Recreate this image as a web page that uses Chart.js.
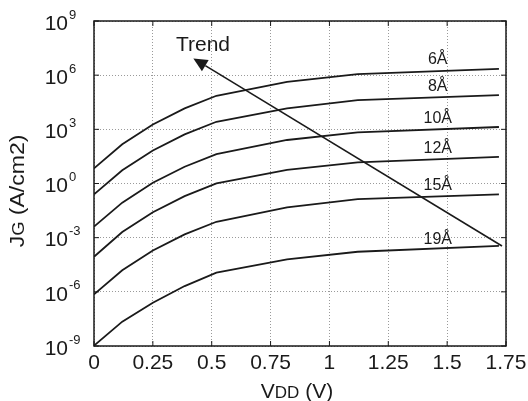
<!DOCTYPE html>
<html>
<head>
<meta charset="utf-8">
<script src="https://cdn.jsdelivr.net/npm/chart.js@4.4.1/dist/chart.umd.min.js"></script>
<style>
  html, body { margin: 0; padding: 0; background: #fff; }
  #wrap { width: 528px; height: 401px; }
</style>
</head>
<body>
<div id="wrap"><canvas id="c" width="528" height="401"></canvas></div>
<script>
// ---- data (log10 of JG in A/cm2) ----
const vdd = [0, 0.12, 0.25, 0.385, 0.52, 0.82, 1.12, 1.72];
const seriesNames = ['6Å', '8Å', '10Å', '12Å', '15Å', '19Å'];
const logJ_6A  = [0.84, 2.17, 3.27, 4.16, 4.86, 5.63, 6.06, 6.35];
const logJ_8A  = [-0.60, 0.73, 1.83, 2.72, 3.42, 4.16, 4.62, 4.90];
const logJ_10A = [-2.39, -1.06, 0.04, 0.93, 1.63, 2.41, 2.83, 3.13];
const logJ_12A = [-4.06, -2.69, -1.59, -0.70, 0.01, 0.75, 1.17, 1.48];
const logJ_15A = [-6.14, -4.81, -3.71, -2.82, -2.12, -1.32, -0.86, -0.60];
const logJ_19A = [-8.98, -7.65, -6.60, -5.68, -4.94, -4.20, -3.78, -3.45];
const allSeries = [logJ_6A, logJ_8A, logJ_10A, logJ_12A, logJ_15A, logJ_19A];

// curve label anchors (V, log10 J)
const labelV = [1.46, 1.46, 1.46, 1.46, 1.46, 1.46];
const labelLogJ = [6.84, 5.34, 3.62, 1.96, -0.09, -3.08];

// trend arrow (tail -> head) and its text
const arrowTail = { v: 1.733, logJ: -3.46 };
const arrowHead = { v: 0.422, logJ: 6.93 };
const trendText = { v: 0.463, logJ: 7.67, text: 'Trend' };

// ticks
const xTickValues = [0, 0.25, 0.5, 0.75, 1, 1.25, 1.5, 1.75];
const xTickLabels = ['0', '0.25', '0.5', '0.75', '1', '1.25', '1.5', '1.75'];
const yTickExps = [-9, -6, -3, 0, 3, 6, 9];
const yTickBase = '10';

// axis titles: [main, subscript, rest]
const xTitleParts = ['V', 'DD', ' (V)'];
const yTitleParts = ['J', 'G', ' (A/cm2)'];

const FONT = "'Liberation Sans', Arial, Helvetica, sans-serif";
const INK = '#1a1a1a';

const datasets = allSeries.map((s, i) => ({
  label: seriesNames[i],
  data: s.map((e, k) => ({ x: vdd[k], y: Math.pow(10, e) })),
  borderColor: INK,
  borderWidth: 1.8,
  pointRadius: 0,
  tension: 0,
  fill: false
}));

function drawParts(ctx, parts, big, small, cx, baseY, stretch) {
  const fonts = [big, small, big];
  let total = 0;
  parts.forEach((p, i) => { ctx.font = fonts[i] + 'px ' + FONT; total += ctx.measureText(p).width; });
  ctx.save();
  ctx.translate(cx, baseY);
  ctx.scale(stretch, 1);
  let x = -total / 2;
  ctx.textAlign = 'left';
  ctx.textBaseline = 'alphabetic';
  parts.forEach((p, i) => {
    ctx.font = fonts[i] + 'px ' + FONT;
    ctx.fillText(p, x, 0);
    x += ctx.measureText(p).width;
  });
  ctx.restore();
}

const decor = {
  id: 'decor',
  afterDraw(chart) {
    const { ctx, chartArea: a, scales: { x, y } } = chart;
    ctx.save();
    ctx.strokeStyle = INK;
    ctx.lineWidth = 1.5;
    ctx.strokeRect(a.left, a.top, a.right - a.left, a.bottom - a.top);
    ctx.beginPath();
    xTickValues.forEach(v => {
      const px = x.getPixelForValue(v);
      ctx.moveTo(px, a.bottom); ctx.lineTo(px, a.bottom - 5);
      ctx.moveTo(px, a.top); ctx.lineTo(px, a.top + 5);
    });
    yTickExps.forEach(e => {
      const py = y.getPixelForValue(Math.pow(10, e));
      ctx.moveTo(a.left, py); ctx.lineTo(a.left + 5, py);
      ctx.moveTo(a.right, py); ctx.lineTo(a.right - 5, py);
    });
    ctx.lineWidth = 1;
    ctx.stroke();

    ctx.fillStyle = INK;

    // y tick exponents (superscripts)
    ctx.font = '13px ' + FONT;
    ctx.textAlign = 'left';
    ctx.textBaseline = 'middle';
    yTickExps.forEach(e => {
      const py = y.getPixelForValue(Math.pow(10, e));
      ctx.fillText(String(e), a.left - 25, py - 6);
    });

    // axis titles with subscripts
    drawParts(ctx, xTitleParts, 21, 17, (a.left + a.right) / 2 - 3, 398, 1);
    ctx.save();
    ctx.translate(24, 191);
    ctx.rotate(-Math.PI / 2);
    drawParts(ctx, yTitleParts, 20, 16, 0, 0, 1.15);
    ctx.restore();

    // curve labels
    ctx.font = '16px ' + FONT;
    ctx.textAlign = 'center';
    ctx.textBaseline = 'middle';
    seriesNames.forEach((n, i) => {
      ctx.fillText(n, x.getPixelForValue(labelV[i]), y.getPixelForValue(Math.pow(10, labelLogJ[i])));
    });

    // trend text
    ctx.font = '21px ' + FONT;
    ctx.fillText(trendText.text, x.getPixelForValue(trendText.v), y.getPixelForValue(Math.pow(10, trendText.logJ)));

    // arrow
    const tx = x.getPixelForValue(arrowTail.v), ty = y.getPixelForValue(Math.pow(10, arrowTail.logJ));
    const hx = x.getPixelForValue(arrowHead.v), hy = y.getPixelForValue(Math.pow(10, arrowHead.logJ));
    const dx = hx - tx, dy = hy - ty, len = Math.hypot(dx, dy);
    const ux = dx / len, uy = dy / len;
    const L = 14, W = 6.5;
    const bx = hx - ux * L, by = hy - uy * L;
    ctx.strokeStyle = INK;
    ctx.lineWidth = 1.6;
    ctx.beginPath();
    ctx.moveTo(tx, ty); ctx.lineTo(bx, by);
    ctx.stroke();
    ctx.beginPath();
    ctx.moveTo(hx, hy);
    ctx.lineTo(bx - uy * W, by + ux * W);
    ctx.lineTo(bx + uy * W, by - ux * W);
    ctx.closePath();
    ctx.fill();
    ctx.restore();
  }
};

new Chart(document.getElementById('c'), {
  type: 'line',
  data: { datasets },
  plugins: [decor],
  options: {
    responsive: false,
    animation: false,
    events: [],
    layout: { padding: { left: 0, top: 21, right: 22, bottom: 0 } },
    plugins: { legend: { display: false }, tooltip: { enabled: false } },
    scales: {
      x: {
        type: 'linear',
        min: 0, max: 1.75,
        afterBuildTicks: s => { s.ticks = xTickValues.map(v => ({ value: v })); },
        afterFit: s => { s.height = 55; s.paddingLeft = 0; s.paddingRight = 0; },
        ticks: {
          color: INK,
          font: { family: FONT, size: 21 },
          padding: 5,
          maxRotation: 0,
          autoSkip: false,
          callback: (v, i) => xTickLabels[i]
        },
        grid: { color: '#9a9a9a', lineWidth: 1, drawTicks: false },
        border: { display: false, dash: [1, 2] }
      },
      y: {
        type: 'logarithmic',
        min: 1e-9, max: 1e9,
        afterBuildTicks: s => { s.ticks = yTickExps.map(e => ({ value: Math.pow(10, e) })); },
        afterFit: s => { s.width = 94; s.paddingTop = 0; s.paddingBottom = 0; },
        ticks: {
          color: INK,
          font: { family: FONT, size: 21 },
          padding: 26,
          labelOffset: 3,
          autoSkip: false,
          callback: () => yTickBase
        },
        grid: { color: '#9a9a9a', lineWidth: 1, drawTicks: false },
        border: { display: false, dash: [1, 2] }
      }
    }
  }
});
</script>
</body>
</html>
